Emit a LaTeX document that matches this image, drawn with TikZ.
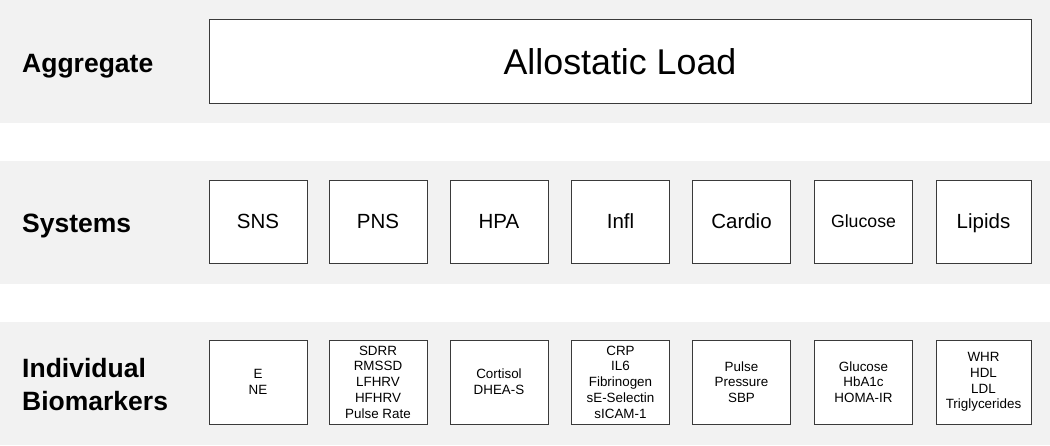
\documentclass[tikz,border=0pt]{standalone}
\usepackage{fontspec}
\setmainfont{Liberation Sans}
\definecolor{bandgray}{HTML}{F2F2F2}
\definecolor{boxline}{HTML}{3A3A3A}
\tikzset{
  band/.style={fill=bandgray},
  rowlabel/.style={anchor=west, align=left, font=\fontsize{26.5}{33}\selectfont\bfseries, inner sep=0pt},
  sysbox/.style={draw=boxline, line width=1pt, fill=white, minimum width=98pt, minimum height=83pt, inner sep=0pt, text height=14.7pt, text depth=0pt, font=\fontsize{20.5}{24}\selectfont},
  biobox/.style={draw=boxline, line width=1pt, fill=white, minimum width=98pt, minimum height=84pt, inner sep=0pt, align=center, font=\fontsize{13.4}{15.7}\selectfont},
}
\begin{document}
\begin{tikzpicture}[x=1pt,y=-1pt]
\useasboundingbox (0,0) rectangle (1050,445);
\fill[white] (0,0) rectangle (1050,445);
% bands
\fill[band] (0,0) rectangle (1050,123);
\fill[band] (0,161) rectangle (1050,284);
\fill[band] (0,322) rectangle (1050,445);
% row labels
\node[rowlabel, anchor=base west] (lagg) at (22,72) {Aggregate};
\node[rowlabel, anchor=base west] (lsys) at (22,232) {Systems};
\node[rowlabel] (lbio) at (22,385) {Individual\\Biomarkers};
% aggregate
\node[draw=boxline, line width=1pt, fill=white, minimum width=822pt, minimum height=83.5pt, inner sep=0pt, text height=25.6pt, text depth=0pt, font=\fontsize{35.8}{40}\selectfont] (al) at (620,61.25) {Allostatic Load};
% systems
\node[sysbox] (sns) at (258,221.5) {SNS};
\node[sysbox] (pns) at (378,221.5) {PNS};
\node[sysbox] (hpa) at (499,221.5) {HPA};
\node[sysbox] (infl) at (620.5,221.5) {Infl};
\node[sysbox] (cardio) at (741.5,221.5) {Cardio};
\node[sysbox, text height=12.7pt, font=\fontsize{17.7}{21}\selectfont] (gluc) at (863.5,221.5) {Glucose};
\node[sysbox, minimum width=95pt] (lip) at (983.5,221.5) {Lipids};
% biomarkers
\node[biobox] (bsns) at (258,382) {E\\NE};
\node[biobox] (bpns) at (378,382) {SDRR\\RMSSD\\LFHRV\\HFHRV\\Pulse Rate};
\node[biobox] (bhpa) at (499,382) {Cortisol\\DHEA-S};
\node[biobox] (binfl) at (620.5,382) {CRP\\IL6\\Fibrinogen\\sE-Selectin\\sICAM-1};
\node[biobox] (bcardio) at (741.5,382) {Pulse\\Pressure\\SBP};
\node[biobox] (bgluc) at (863.5,382) {Glucose\\HbA1c\\HOMA-IR};
\node[biobox, minimum width=95pt] (blip) at (983.5,382) {WHR\\HDL\\LDL\\Triglycerides};
\end{tikzpicture}
\end{document}
